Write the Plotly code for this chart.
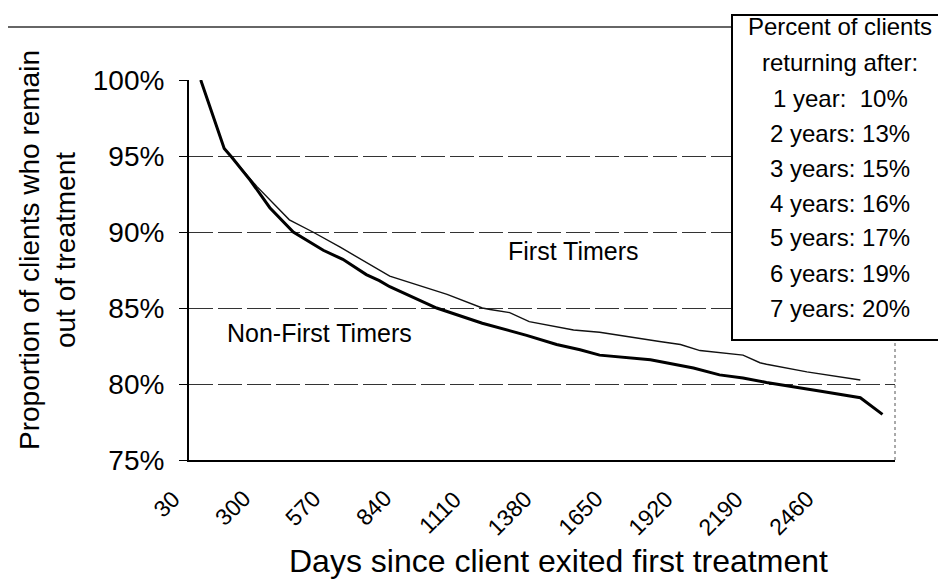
import plotly.graph_objects as go

# ----------------------------------
# Data
# ----------------------------------

# Non-First Timers (heavy line)
nft_days = [60, 150, 180, 250, 325, 415, 530, 605, 695, 745, 785, 965, 1140,
            1310, 1425, 1515, 1590, 1705, 1785, 1950, 2050, 2140, 2230, 2445,
            2590, 2675]
nft_pct = [100.0, 95.5, 94.9, 93.4, 91.6, 90.0, 88.8, 88.2, 87.2, 86.8, 86.4,
           85.0, 84.0, 83.2, 82.6, 82.25, 81.9, 81.7, 81.6, 81.05, 80.6, 80.4,
           80.1, 79.5, 79.1, 78.0]

# First Timers (light line)
ft_days = [60, 150, 180, 250, 275, 400, 490, 595, 695, 745, 785, 1005, 1140,
           1170, 1245, 1320, 1490, 1590, 1770, 1820, 1900, 1975, 2140, 2205,
           2230, 2385, 2590]
ft_pct = [100.0, 95.5, 94.9, 93.5, 93.0, 90.8, 90.0, 89.0, 88.0, 87.5, 87.1,
          85.9, 85.0, 84.9, 84.7, 84.1, 83.55, 83.4, 82.9, 82.8, 82.6, 82.2,
          81.9, 81.4, 81.3, 80.8, 80.26]

x_ticks = [30, 300, 570, 840, 1110, 1380, 1650, 1920, 2190, 2460]
y_ticks = [75, 80, 85, 90, 95, 100]

return_years = [1, 2, 3, 4, 5, 6, 7]
return_pct = [10, 13, 15, 16, 17, 19, 20]

# ----------------------------------
# Layout geometry (page pixels; the page body adds an 8px offset)
# ----------------------------------

OFF = 8
W, H = 946 - OFF, 581 - OFF
L, R, T, B = 189 - OFF, 51, 80 - OFF, 121
PX0, PX1 = 189, 895   # plot area, page x
PY0, PY1 = 80, 460    # plot area, page y


def px_x(x):
    return (x - PX0) / (PX1 - PX0)


def px_y(y):
    return (PY1 - y) / (PY1 - PY0)


FONT = "Arial, Liberation Sans, sans-serif"

fig = go.Figure()

fig.add_trace(go.Scatter(
    x=ft_days, y=ft_pct, mode="lines",
    line=dict(color="#111111", width=1.4),
    name="First Timers"
))
fig.add_trace(go.Scatter(
    x=nft_days, y=nft_pct, mode="lines",
    line=dict(color="#000000", width=3),
    name="Non-First Timers"
))

# series labels
fig.add_annotation(x=1490, y=88.75, text="First Timers", showarrow=False,
                   font=dict(size=25, color="black", family=FONT))
fig.add_annotation(x=517, y=83.36, text="Non-First Timers", showarrow=False,
                   font=dict(size=25, color="black", family=FONT))

# x tick labels, rotated like the original
for t in x_ticks:
    fig.add_annotation(
        x=t, xref="x", y=0, yref="paper",
        text=str(t), textangle=-45, showarrow=False,
        xanchor="right", yanchor="top", xshift=-5, yshift=-23,
        font=dict(size=23, color="black", family=FONT)
    )

# axis titles
fig.add_annotation(
    xref="paper", yref="paper", x=px_x(48), y=px_y(250),
    xanchor="center", yanchor="middle",
    text="Proportion of clients who remain<br>out of treatment",
    textangle=-90, showarrow=False,
    font=dict(size=28, color="black", family=FONT)
)
fig.add_annotation(
    xref="paper", yref="paper", x=px_x(558), y=px_y(561),
    xanchor="center", yanchor="middle",
    text="Days since client exited first treatment", showarrow=False,
    font=dict(size=32, color="black", family=FONT)
)

# stray frame line at the top
fig.add_shape(type="line", xref="paper", yref="paper",
              x0=px_x(8), x1=px_x(732), y0=px_y(27), y1=px_y(27),
              line=dict(color="#333333", width=1.5))

# right border of the plot area (dotted)
fig.add_shape(type="line", xref="paper", yref="paper",
              x0=1, x1=1, y0=0, y1=1,
              line=dict(color="#555555", width=1, dash="dot"))

# return-rate box
fig.add_shape(type="rect", xref="paper", yref="paper",
              x0=px_x(732), x1=px_x(960), y0=px_y(340), y1=px_y(15),
              line=dict(color="black", width=2), fillcolor="white",
              layer="above")

box_lines = ["Percent of clients", "returning after:"]
for yr, p in zip(return_years, return_pct):
    if yr == 1:
        box_lines.append(f"{yr} year:\u00a0\u00a0{p}%")
    else:
        box_lines.append(f"{yr} years: {p}%")

box_y = [27, 62, 98, 133, 168, 203, 238, 273, 308]
for txt, yy in zip(box_lines, box_y):
    fig.add_annotation(xref="paper", yref="paper", x=px_x(840), y=px_y(yy),
                       text=txt, showarrow=False,
                       xanchor="center", yanchor="middle",
                       font=dict(size=24, color="black", family=FONT))

fig.update_xaxes(
    range=[15, 2723],
    tickmode="array", tickvals=x_ticks,
    showticklabels=False,
    showgrid=False, zeroline=False,
    showline=True, linecolor="black", linewidth=2,
    ticks=""
)
fig.update_yaxes(
    range=[75, 100],
    tickmode="array", tickvals=y_ticks,
    ticktext=[f"{v}%" for v in y_ticks],
    tickfont=dict(size=28, color="black", family=FONT),
    showgrid=True, gridcolor="#333333", gridwidth=1, griddash="24px,5px",
    zeroline=False,
    showline=True, linecolor="black", linewidth=2,
    ticks="outside", ticklen=8, tickcolor="black",
    ticklabelstandoff=9
)

fig.update_layout(
    width=W, height=H,
    margin=dict(l=L, r=R, t=T, b=B, autoexpand=False),
    paper_bgcolor="white", plot_bgcolor="white",
    showlegend=False,
    font=dict(family=FONT, color="black")
)

fig.write_html("out.html")
